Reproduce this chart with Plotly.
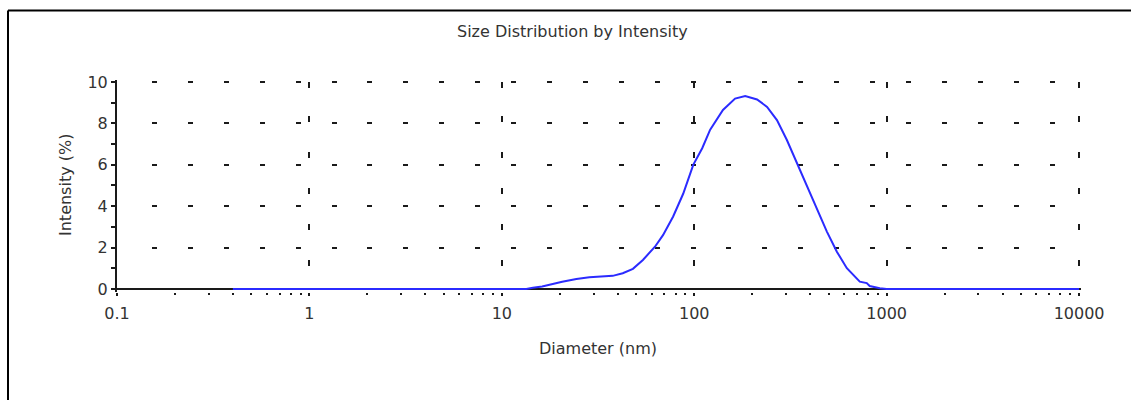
import plotly.graph_objects as go

# ---- data ----
diameter_nm = [0.4, 13.4, 14.5, 16.2, 20.6, 24.4, 28.5, 37.7, 42.5, 48.0, 54.1, 62.5, 68.8,
               77.7, 87.6, 98.8, 110, 121, 141, 163, 184, 212, 239, 269, 303, 342, 385,
               434, 489, 551, 621, 725, 788, 816, 921, 1000, 10000]
intensity_pct = [0, 0, 0.05, 0.12, 0.35, 0.48, 0.56, 0.63, 0.76, 0.97, 1.40, 2.04, 2.60,
                 3.50, 4.60, 6.00, 6.80, 7.70, 8.65, 9.20, 9.32, 9.16, 8.80, 8.16, 7.20, 6.07, 4.94,
                 3.82, 2.77, 1.80, 1.00, 0.35, 0.28, 0.14, 0.03, 0, 0]

x_tick_vals = [0.1, 1, 10, 100, 1000, 10000]
x_tick_text = ["0.1", "1", "10", "100", "1000", "10000"]
y_tick_vals = [0, 2, 4, 6, 8, 10]
y_tick_text = ["0", "2", "4", "6", "8", "10"]

title_text = "Size Distribution by Intensity"
x_title = "Diameter (nm)"
y_title = "Intensity (%)"

FONT = "DejaVu Sans"
TXT = "#333333"
INK = "#1a1a1a"

W, H = 1131, 400
ML, MR, MT, MB = 117, 50, 80, 108
PW, PH = W - ML - MR, H - MT - MB


def px_x(px):
    return (px - ML) / PW


def px_y(py):
    return (H - MB - py) / PH


hdash = "0px,35px," + ",".join(["5px,30.9px"] * 28)
vdash = "0px,2px,6px,28px," + ",".join(["6px,30px"] * 8)

fig = go.Figure()
fig.add_trace(go.Scatter(x=diameter_nm, y=intensity_pct, mode="lines",
                         line=dict(color="#2b2bff", width=2), showlegend=False))

xr = [-1, 4.01]
yr = [-0.15, 10.1]

fig.update_layout(
    width=W, height=H,
    margin=dict(l=ML, r=MR, t=MT, b=MB),
    paper_bgcolor="white", plot_bgcolor="white",
    showlegend=False,
    xaxis=dict(type="log", range=xr, tickmode="array", tickvals=x_tick_vals, ticktext=x_tick_text,
               ticks="outside", ticklen=3, tickwidth=2, tickcolor=INK,
               showline=False, zeroline=False,
               showgrid=True, gridcolor=INK, gridwidth=2, griddash=vdash,
               minor=dict(ticks="outside", ticklen=2, tickwidth=2, tickcolor=INK, dtick="D1", showgrid=False),
               tickfont=dict(family=FONT, size=16, color=TXT), ticklabelstandoff=4),
    xaxis2=dict(type="log", range=xr, overlaying="x", anchor="y", side="bottom",
                tickmode="array", tickvals=x_tick_vals, showticklabels=False,
                ticks="inside", ticklen=6, tickwidth=2, tickcolor=INK,
                showline=False, zeroline=False, showgrid=False,
                minor=dict(ticks="inside", ticklen=5, tickwidth=2, tickcolor=INK, dtick="D1", showgrid=False)),
    yaxis=dict(range=yr, tickmode="array", tickvals=y_tick_vals, ticktext=y_tick_text,
               ticks="outside", ticklen=4, tickwidth=2, tickcolor=INK,
               showline=True, linecolor=INK, linewidth=2,
               zeroline=True, zerolinecolor=INK, zerolinewidth=2,
               showgrid=True, gridcolor=INK, gridwidth=2, griddash=hdash,
               minor=dict(ticks="outside", ticklen=4, tickwidth=2, tickcolor=INK, dtick=1, showgrid=False),
               tickfont=dict(family=FONT, size=16, color=TXT), ticklabelstandoff=0),
    yaxis2=dict(range=yr, overlaying="y", anchor="x", side="left",
                tickmode="array", tickvals=y_tick_vals, showticklabels=False,
                ticks="inside", ticklen=4, tickwidth=2, tickcolor=INK,
                showline=False, zeroline=False, showgrid=False,
                minor=dict(ticks="inside", ticklen=4, tickwidth=2, tickcolor=INK, dtick=1, showgrid=False)),
    annotations=[
        dict(text=title_text, xref="paper", yref="paper", x=px_x(572), y=px_y(31),
             xanchor="center", yanchor="middle", showarrow=False,
             font=dict(family=FONT, size=16, color=TXT)),
        dict(text=x_title, xref="paper", yref="paper", x=px_x(598), y=px_y(348),
             xanchor="center", yanchor="middle", showarrow=False,
             font=dict(family=FONT, size=16, color=TXT)),
        dict(text=y_title, xref="paper", yref="paper", x=px_x(65), y=px_y(185),
             xanchor="center", yanchor="middle", showarrow=False, textangle=-90,
             font=dict(family=FONT, size=16, color=TXT)),
    ],
    shapes=[
        dict(type="line", xref="paper", yref="paper", x0=px_x(8), x1=px_x(1140),
             y0=px_y(10.5), y1=px_y(10.5), line=dict(color="black", width=2)),
        dict(type="line", xref="paper", yref="paper", x0=px_x(8), x1=px_x(8),
             y0=px_y(10.5), y1=px_y(410), line=dict(color="black", width=2)),
    ],
)

fig.write_html("out.html")
